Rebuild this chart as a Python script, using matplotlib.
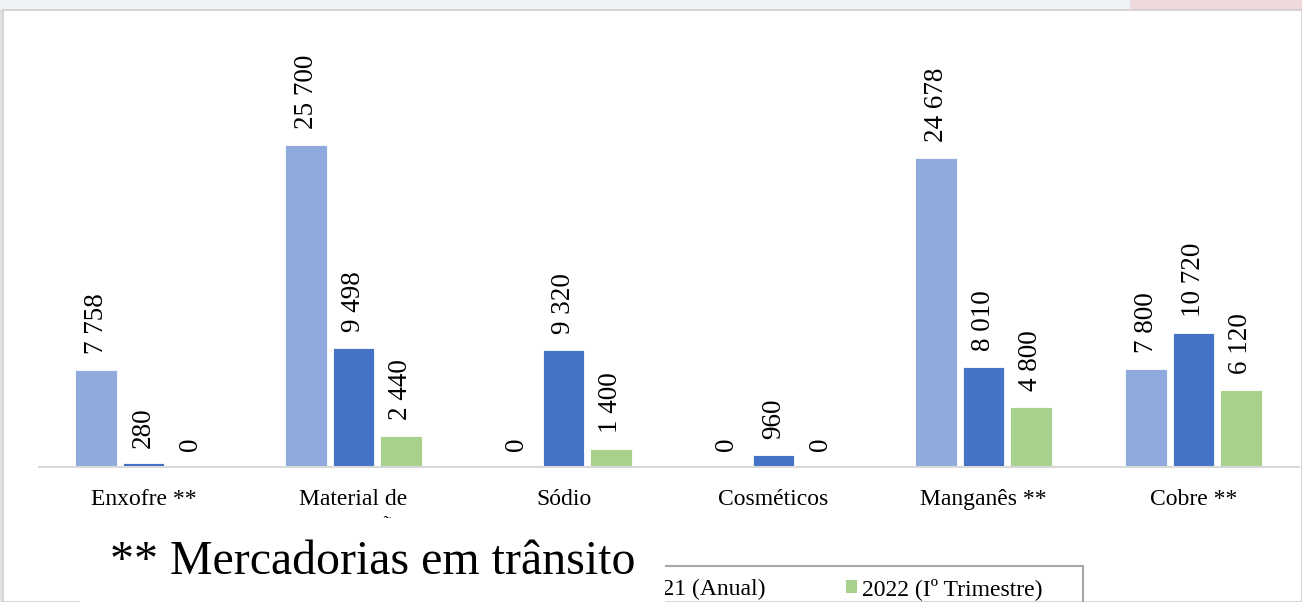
import matplotlib
matplotlib.use("Agg")
import matplotlib.pyplot as plt
from matplotlib.patches import Rectangle, Patch
import numpy as np

plt.rcParams['font.family'] = ['Liberation Serif', 'DejaVu Serif']

categories = ["Enxofre **", "Material de\nconstrução", "Sódio", "Cosméticos", "Manganês **", "Cobre **"]
series_names = ["2020 (Anual)", "2021 (Anual)", "2022 (Iº Trimestre)"]
v2020 = [7758, 25700, 0, 0, 24678, 7800]
v2021 = [280, 9498, 9320, 960, 8010, 10720]
v2022 = [0, 2440, 1400, 0, 4800, 6120]
label_2020 = ["7 758", "25 700", "0", "0", "24 678", "7 800"]
label_2021 = ["280", "9 498", "9 320", "960", "8 010", "10 720"]
label_2022 = ["0", "2 440", "1 400", "0", "4 800", "6 120"]
footnote = "** Mercadorias em trânsito"

colors = ["#8FAADC", "#4472C4", "#A9D18E"]

W, H = 1302, 602
fig = plt.figure(figsize=(W / 100, H / 100), dpi=100, facecolor="#EEF1F6")

def fx(px):
    return px / W

def fy(py):
    return 1 - py / H

# white panel + background bits
fig.patches.append(Rectangle((fx(3), 0), 1 - fx(3), fy(10), transform=fig.transFigure,
                             facecolor="white", edgecolor="#CFCFCF", lw=1.2, zorder=-10))
fig.patches.append(Rectangle((fx(1130), fy(10)), 1 - fx(1130), 10 / H, transform=fig.transFigure,
                             facecolor="#EED9DC", edgecolor="none", zorder=-11))
fig.patches.append(Rectangle((0, 0), fx(3), fy(10), transform=fig.transFigure,
                             facecolor="#E2E2E2", edgecolor="none", zorder=-11))

ax = fig.add_axes([fx(38.5), (H - 467) / H, 1260 / W, 375.9 / H])
ax.set_facecolor("none")
ax.set_xlim(-0.5, 5.5)
ax.set_ylim(0, 30000)

x = np.arange(len(categories))
step = 0.226
bw = 0.198
for i, (vals, labs) in enumerate([(v2020, label_2020), (v2021, label_2021), (v2022, label_2022)]):
    pos = x + (i - 1) * step
    ax.bar(pos, vals, width=bw, color=colors[i], edgecolor="white", linewidth=0.6, zorder=2)
    for p, v, t in zip(pos, vals, labs):
        ax.annotate(t, (p, v), xytext=(0, 11.5), textcoords="offset points",
                    rotation=90, ha="center", va="bottom", fontsize=19.5, color="black")

for s in ["top", "right", "left"]:
    ax.spines[s].set_visible(False)
ax.spines["bottom"].set_color("#D9D9D9")
ax.spines["bottom"].set_linewidth(1.5)
ax.set_yticks([])
ax.set_xticks(x)
ax.set_xticklabels(categories, fontsize=17, linespacing=1.35)
ax.tick_params(axis="x", length=0, pad=16)

# legend
handles = [Patch(facecolor=c, edgecolor="none") for c in colors]
leg = fig.legend(handles, series_names, ncol=3, loc="upper right",
                 bbox_to_anchor=(fx(1042), fy(578)), frameon=False, fontsize=17,
                 handlelength=0.47, handleheight=0.47, handletextpad=0.2,
                 columnspacing=3.4, borderpad=0, borderaxespad=0)
leg.set_zorder(5)
fig.patches.append(Rectangle((fx(600), fy(602) - 0.01), fx(1083) - fx(600), fy(565.5) - fy(602) + 0.01,
                             transform=fig.transFigure, facecolor="none",
                             edgecolor="#A6A6A6", lw=1.5, zorder=4))

# white text box covering part of the legend
fig.patches.append(Rectangle((fx(80), 0), fx(665) - fx(80), fy(518), transform=fig.transFigure,
                             facecolor="white", edgecolor="none", zorder=6))
fig.text(fx(110), fy(574), footnote, fontsize=34.5, ha="left", va="baseline", zorder=7)

fig.savefig("out.png", dpi=100, facecolor=fig.get_facecolor())
